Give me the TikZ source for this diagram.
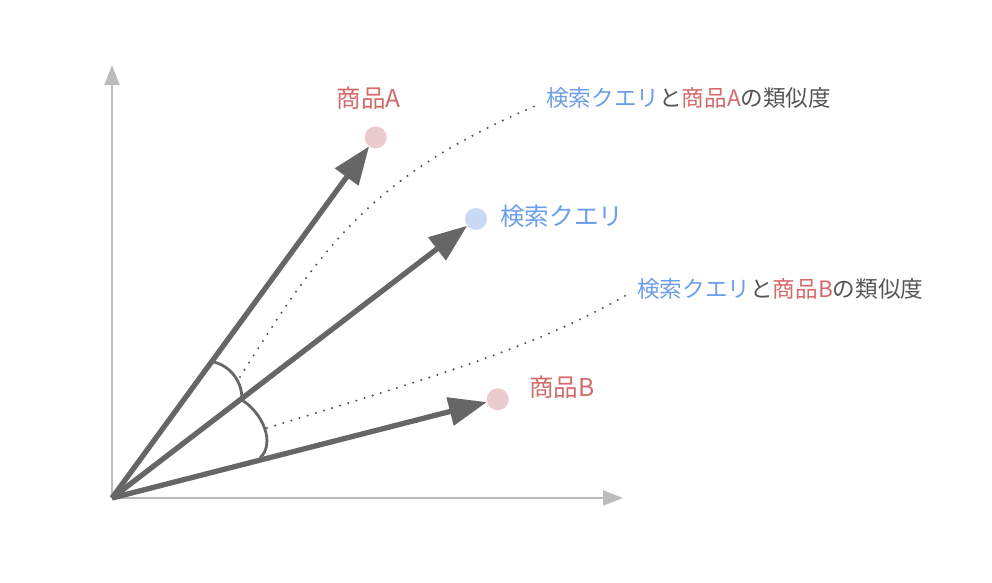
\documentclass[tikz,border=0pt]{standalone}
\usepackage{fontspec}
\setmainfont{Noto Sans CJK JP}
\usetikzlibrary{arrows.meta}
\definecolor{axisgray}{HTML}{BBBBBB}
\definecolor{vecgray}{HTML}{666666}
\definecolor{dotgray}{HTML}{555555}
\definecolor{txtgray}{HTML}{555555}
\definecolor{itemred}{HTML}{D46A6A}
\definecolor{queryblue}{HTML}{6D9EEB}
\definecolor{pinkdot}{HTML}{EBCBCB}
\definecolor{bluedot}{HTML}{C9D8F5}
\tikzset{
  axisline/.style={draw=axisgray, line width=2pt, -{Triangle[length=20pt,width=15pt]}},
  vecline/.style={draw=vecgray, line width=5.3pt, -{Triangle[length=38pt,width=28pt]}},
  anglearc/.style={draw=vecgray, line width=2.8pt},
  dotline/.style={draw=dotgray, line width=2.3pt, line cap=round, dash pattern=on 0pt off 8.5pt},
  pointdot/.style={circle, minimum size=22pt, inner sep=0pt, draw=none},
  biglbl/.style={inner sep=0pt, font=\fontsize{24.6}{24.6}\selectfont},
  simlbl/.style={inner sep=0pt, anchor=west, text=txtgray, font=\fontsize{22.6}{22.6}\selectfont}
}
\begin{document}
\begin{tikzpicture}[x=1pt, y=-1pt]
\useasboundingbox (0,0) rectangle (992,582);
% origin and axes
\coordinate (O) at (112,498);
\coordinate (Ytop) at (112,65);
\coordinate (Xend) at (623,498);
\draw[axisline] (O) -- (Ytop);
\draw[axisline] (O) -- (Xend);
% points
\node[pointdot, fill=pinkdot] (dA) at (375.7,137.3) {};
\node[pointdot, fill=bluedot] (dQ) at (476,219) {};
\node[pointdot, fill=pinkdot] (dB) at (497.7,399.3) {};
% vectors
\draw[vecline] (O) -- (dA);
\draw[vecline] (O) -- (dQ);
\draw[vecline] (O) -- (dB);
% angle arcs
\coordinate (a1s) at (214,362);
\coordinate (a1e) at (241.7,400);
\coordinate (a2e) at (260,458);
\draw[anglearc] (a1s) .. controls (233,367) and (243,385) .. (a1e);
\draw[anglearc] (a1e) .. controls (262,412) and (276,443) .. (a2e);
% labels
\node[biglbl, text=itemred] (lA) at (368.5,98) {商品A};
\node[biglbl, text=queryblue, anchor=west] (lQ) at (500,216) {検索クエリ};
\node[biglbl, text=itemred, anchor=west] (lB) at (529,387) {商品B};
\node[simlbl] (sA) at (546,98) {\textcolor{queryblue}{検索クエリ}と\textcolor{itemred}{商品A}の類似度};
\node[simlbl] (sB) at (637,289) {\textcolor{queryblue}{検索クエリ}と\textcolor{itemred}{商品B}の類似度};
% dotted leaders
\coordinate (c1s) at (240,377);
\coordinate (c1e) at (540,104);
\coordinate (c2s) at (267,428);
\coordinate (c2e) at (630,293);
\draw[dotline] (c1s) .. controls (320,250) and (370,175) .. (c1e);
\draw[dotline] (c2s) .. controls (450,372) and (540,345) .. (c2e);
\end{tikzpicture}
\end{document}
